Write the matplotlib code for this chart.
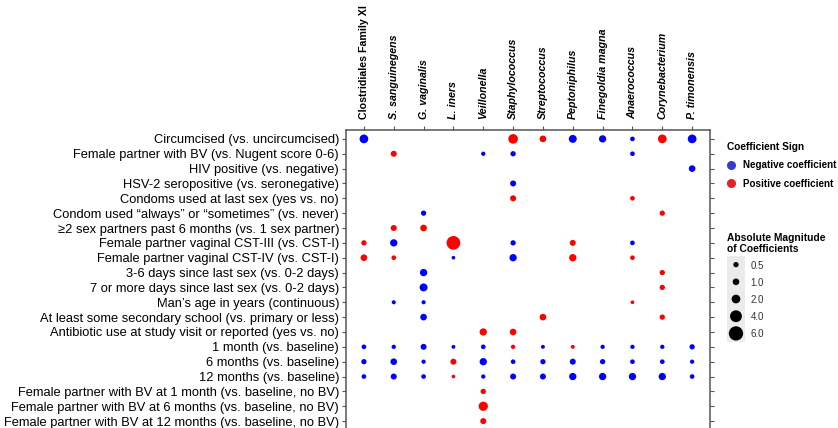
import matplotlib
matplotlib.use("Agg")
import matplotlib.pyplot as plt
from matplotlib.lines import Line2D
import numpy as np

plt.rcParams['font.family'] = ['Liberation Sans', 'DejaVu Sans']

taxa = ["Clostridiales Family XI", "S. sanguinegens", "G. vaginalis", "L. iners",
        "Veillonella", "Staphylococcus", "Streptococcus", "Peptoniphilus",
        "Finegoldia magna", "Anaerococcus", "Corynebacterium", "P. timonensis"]

factors = ["Circumcised (vs. uncircumcised)",
           "Female partner with BV (vs. Nugent score 0-6)",
           "HIV positive (vs. negative)",
           "HSV-2 seropositive (vs. seronegative)",
           "Condoms used at last sex (yes vs. no)",
           "Condom used \u201calways\u201d or \u201csometimes\u201d (vs. never)",
           "\u22652 sex partners past 6 months (vs. 1 sex partner)",
           "Female partner vaginal CST-III (vs. CST-I)",
           "Female partner vaginal CST-IV (vs. CST-I)",
           "3-6 days since last sex (vs. 0-2 days)",
           "7 or more days since last sex (vs. 0-2 days)",
           "Man\u2019s age in years (continuous)",
           "At least some secondary school (vs. primary or less)",
           "Antibiotic use at study visit or reported (yes vs. no)",
           "1 month (vs. baseline)",
           "6 months (vs. baseline)",
           "12 months (vs. baseline)",
           "Female partner with BV at 1 month (vs. baseline, no BV)",
           "Female partner with BV at 6 months (vs. baseline, no BV)",
           "Female partner with BV at 12 months (vs. baseline, no BV)"]

# signed coefficients, 0 = not shown
coef = [
    [-2.0, 0, 0, 0, 0, 2.5, 1.0, -1.6, -1.3, -0.3, 2.0, -2.0],
    [0, 0.75, 0, 0, -0.2, -0.5, 0, 0, 0, -0.3, 0, 0],
    [0, 0, 0, 0, 0, 0, 0, 0, 0, 0, 0, -1.0],
    [0, 0, 0, 0, 0, -0.75, 0, 0, 0, 0, 0, 0],
    [0, 0, 0, 0, 0, 0.75, 0, 0, 0, 0.3, 0, 0],
    [0, 0, -0.5, 0, 0, 0, 0, 0, 0, 0, 0.5, 0],
    [0, 0.75, 1.0, 0, 0, 0, 0, 0, 0, 0, 0, 0],
    [0.5, -1.3, 0, 5.5, 0, -0.5, 0, 0.75, 0, -0.3, 0, 0],
    [1.0, 0.3, 0, -0.05, 0, -1.3, 0, 1.3, 0, 0.3, 0, 0],
    [0, 0, -1.3, 0, 0, 0, 0, 0, 0, 0, 0.5, 0],
    [0, 0, -1.6, 0, 0, 0, 0, 0, 0, 0, 0.5, 0],
    [0, -0.15, -0.15, 0, 0, 0, 0, 0, 0, 0.05, 0, 0],
    [0, 0, -1.0, 0, 0, 0, 1.0, 0, 0, 0, 0.5, 0],
    [0, 0, 0, 0, 1.3, 1.0, 0, 0, 0, 0, 0, 0],
    [-0.3, -0.2, -0.75, -0.1, -0.3, 0.2, -0.1, 0.1, -0.2, -0.2, -0.2, -0.5],
    [-0.5, -1.0, -0.2, 0.75, -1.3, -0.3, -0.5, -0.75, -0.5, -0.3, -0.3, -0.2],
    [-0.3, -0.75, -0.3, 0.05, -0.2, -0.75, -0.75, -1.3, -1.3, -1.3, -1.3, -0.3],
    [0, 0, 0, 0, 0.5, 0, 0, 0, 0, 0, 0, 0],
    [0, 0, 0, 0, 2.3, 0, 0, 0, 0, 0, 0, 0],
    [0, 0, 0, 0, 0.75, 0, 0, 0, 0, 0, 0, 0],
]

size_keys = [0.5, 1.0, 2.0, 4.0, 6.0]
size_labels = ["0.5", "1.0", "2.0", "4.0", "6.0"]

BLUE = "#0000ff"
RED = "#ff0000"
EDGE = "#555555"


def msize(m):
    # marker area (pt^2) grows linearly with |coefficient|
    d_px = np.sqrt(12 + 32 * np.abs(m))
    return (d_px * 0.72) ** 2


c = np.array(coef, dtype=float)
rr, cc = np.nonzero(c)
vals = c[rr, cc]
colors = np.where(vals < 0, BLUE, RED)

fig = plt.figure(figsize=(8.38, 4.28), dpi=100)
ax = fig.add_axes([0.4129, -0.0047, 0.4344, 0.701])
ax.scatter(cc, rr, s=msize(vals), c=colors, linewidths=0, zorder=3)

ax.set_xlim(-0.6, len(taxa) - 0.4)
ax.set_ylim(len(factors) - 0.4, -0.6)

ax.set_yticks(range(len(factors)))
ax.set_yticklabels(factors, fontsize=9.3, color="black")
ax.xaxis.tick_top()
ax.set_xticks(range(len(taxa)))
ax.set_xticklabels(taxa, rotation=90, fontsize=7.7, fontweight="bold", va="bottom")
for i, lab in enumerate(ax.get_xticklabels()):
    if i > 0:
        lab.set_fontstyle("italic")

ax.tick_params(axis="y", length=3, width=0.8, color=EDGE, pad=2, right=True)
ax.tick_params(axis="x", length=3, width=0.8, color=EDGE, pad=5)
for sp in ax.spines.values():
    sp.set_color(EDGE)
    sp.set_linewidth(1.1)

# sign legend
handles = [Line2D([], [], marker="o", ls="", color="#3a3ad0", markersize=5.5, label="Negative coefficient"),
           Line2D([], [], marker="o", ls="", color="#e8202a", markersize=5.5, label="Positive coefficient")]
leg = fig.legend(handles=handles, title="Coefficient Sign", loc="upper left",
                 bbox_to_anchor=(0.862, 0.68), frameon=False, alignment="left",
                 prop={"size": 7.1, "weight": "bold"}, handletextpad=0.8,
                 labelspacing=0.85, borderpad=0, handlelength=0.8)
leg.get_title().set_fontweight("bold")
leg.get_title().set_fontsize(7.3)

# size key
kax = fig.add_axes([0.8675, 0.2009, 0.0215, 0.2009])
kax.set_facecolor("#ebebeb")
kax.scatter(np.zeros(len(size_keys)), range(len(size_keys)), s=msize(np.array(size_keys)),
            c="black", linewidths=0)
kax.set_xlim(-1, 1)
kax.set_ylim(len(size_keys) - 0.5, -0.5)
kax.set_xticks([])
kax.yaxis.tick_right()
kax.set_yticks(range(len(size_keys)))
kax.set_yticklabels(size_labels, fontsize=7, color="#333333")
kax.tick_params(axis="y", length=0, pad=4)
for sp in kax.spines.values():
    sp.set_visible(False)
kax.set_title("Absolute Magnitude\nof Coefficients", loc="left", fontsize=7.4,
              fontweight="bold", pad=3, linespacing=1.15)

fig.savefig("out.png", dpi=100)
